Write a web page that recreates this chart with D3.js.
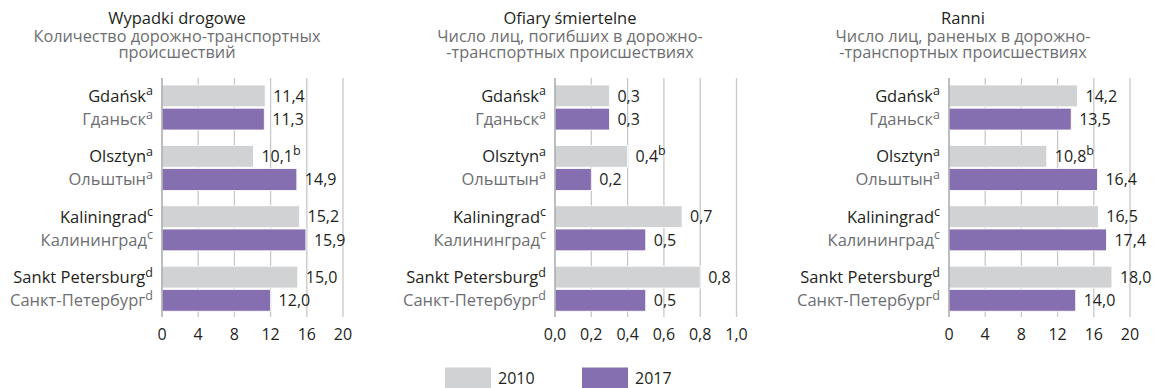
<!DOCTYPE html>
<html>
<head>
<meta charset="utf-8">
<script src="https://cdn.jsdelivr.net/npm/d3@7"></script>
<style>
  html, body { margin: 0; padding: 0; background: #ffffff; }
  svg { display: block; font-family: "Open Sans", "Noto Sans", sans-serif; }
</style>
</head>
<body>
<svg id="chart" width="1154" height="388"></svg>
<script>
// City names (Polish / Russian) and their footnote marks
const citiesPl = ["Gdańsk", "Olsztyn", "Kaliningrad", "Sankt Petersburg"];
const citiesRu = ["Гданьск", "Ольштын", "Калининград", "Санкт-Петербург"];
const cityNotes = ["a", "a", "c", "d"];
const years = ["2010", "2017"];

// Road accidents
const accidents2010 = [11.4, 10.1, 15.2, 15.0];
const accidents2017 = [11.3, 14.9, 15.9, 12.0];
// Fatalities
const deaths2010 = [0.3, 0.4, 0.7, 0.8];
const deaths2017 = [0.3, 0.2, 0.5, 0.5];
// Injured
const injured2010 = [14.2, 10.8, 16.5, 18.0];
const injured2017 = [13.5, 16.4, 17.4, 14.0];
// Footnote marks next to 2010 values
const notes2010 = ["", "b", "", ""];

const ticks20 = [0, 4, 8, 12, 16, 20];
const ticks1 = [0, 0.2, 0.4, 0.6, 0.8, 1.0];

const panels = [
  { title: "Wypadki drogowe", sub: ["Количество дорожно-транспортных", "происшествий"],
    v2010: accidents2010, v2017: accidents2017, max: 20, ticks: ticks20, dec: 1, tickDec: 0,
    x0: 162, x1: 343, cx: 177 },
  { title: "Ofiary śmiertelne", sub: ["Число лиц, погибших в дорожно-", "-транспортных происшествиях"],
    v2010: deaths2010, v2017: deaths2017, max: 1, ticks: ticks1, dec: 1, tickDec: 1,
    x0: 555, x1: 736.5, cx: 570 },
  { title: "Ranni", sub: ["Число лиц, раненых в дорожно-", "-транспортных происшествиях"],
    v2010: injured2010, v2017: injured2017, max: 20, ticks: ticks20, dec: 1, tickDec: 0,
    x0: 949, x1: 1130, cx: 963 }
];

const colors = { "2010": "#d1d2d4", "2017": "#866fb0" };
const dark = "#231f20";
const grey = "#6d6e71";

const svg = d3.select("#chart");
const plotTop = 78, plotBottom = 317;

const y = d3.scaleBand().domain(d3.range(4)).range([85, 311.2]).paddingInner(0.255).paddingOuter(0);
const yy = d3.scaleBand().domain(years).range([0, y.bandwidth()]).paddingInner(0.06);

const fmt = (v, d) => v.toFixed(d).replace(".", ",");

panels.forEach(p => {
  const x = d3.scaleLinear().domain([0, p.max]).range([p.x0, p.x1]);
  const g = svg.append("g");

  // titles
  g.append("text").attr("x", p.cx).attr("y", 23.5).attr("text-anchor", "middle")
    .attr("font-size", 16.5).attr("fill", dark).text(p.title);
  p.sub.forEach((s, i) => {
    g.append("text").attr("x", p.cx).attr("y", 41.5 + i * 16.5).attr("text-anchor", "middle")
      .attr("font-size", 16.3).attr("fill", grey).text(s);
  });

  // grid lines
  g.selectAll("line.grid").data(p.ticks.slice(1)).join("line")
    .attr("x1", d => x(d)).attr("x2", d => x(d))
    .attr("y1", plotTop).attr("y2", plotBottom)
    .attr("stroke", "#c8c8ca").attr("stroke-width", 1.3);

  // bars
  p.v2010.forEach((v, i) => {
    const rows = [{ yr: "2010", v: v, note: notes2010[i] }, { yr: "2017", v: p.v2017[i], note: "" }];
    rows.forEach(r => {
      const by = y(i) + yy(r.yr);
      g.append("rect").attr("x", x(0)).attr("y", by)
        .attr("width", x(r.v) - x(0)).attr("height", yy.bandwidth())
        .attr("fill", colors[r.yr]).attr("stroke", "#ffffff").attr("stroke-width", 0.8);
      const t = g.append("text").attr("x", x(r.v) + 8).attr("y", by + yy.bandwidth() / 2)
        .attr("dy", "0.36em").attr("font-size", 16).attr("fill", dark);
      t.append("tspan").text(fmt(r.v, p.dec));
      if (r.note) t.append("tspan").attr("font-size", 12.5).attr("dy", -7).text(r.note);
    });

    // category labels
    [{ name: citiesPl[i], yr: "2010", fill: dark }, { name: citiesRu[i], yr: "2017", fill: grey }].forEach(l => {
      const t = g.append("text").attr("x", p.x0 - 9)
        .attr("y", y(i) + yy(l.yr) + yy.bandwidth() / 2).attr("dy", "0.36em")
        .attr("text-anchor", "end").attr("font-size", 16.5).attr("fill", l.fill);
      t.append("tspan").text(l.name);
      t.append("tspan").attr("font-size", 12.5).attr("dy", -6.5).text(cityNotes[i]);
    });
  });

  // zero axis line
  g.append("line").attr("x1", x(0)).attr("x2", x(0)).attr("y1", plotTop).attr("y2", plotBottom)
    .attr("stroke", "#a7a9ac").attr("stroke-width", 1.5);

  // tick labels
  g.selectAll("text.tick").data(p.ticks).join("text")
    .attr("x", d => x(d)).attr("y", 334).attr("dy", "0.36em")
    .attr("text-anchor", "middle").attr("font-size", 16).attr("fill", dark)
    .text(d => fmt(d, p.tickDec));
});

// legend
const legend = svg.append("g");
const legendItems = [{ yr: "2010", x: 445 }, { yr: "2017", x: 582 }];
legendItems.forEach(it => {
  legend.append("rect").attr("x", it.x).attr("y", 367.5).attr("width", 46).attr("height", 21)
    .attr("fill", colors[it.yr]);
  legend.append("text").attr("x", it.x + 53).attr("y", 378).attr("dy", "0.36em")
    .attr("font-size", 16).attr("fill", dark).text(it.yr);
});
</script>
</body>
</html>
